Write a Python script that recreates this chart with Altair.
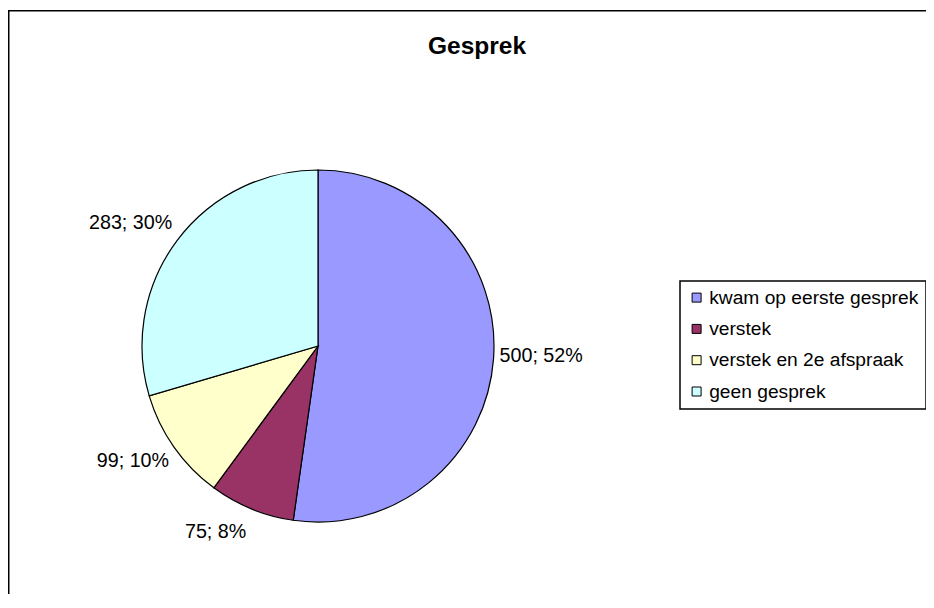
import altair as alt
import pandas as pd

categories = ["kwam op eerste gesprek", "verstek", "verstek en 2e afspraak", "geen gesprek"]
counts = [500, 75, 99, 283]
colors = ["#9999FF", "#993366", "#FFFFCC", "#CCFFFF"]
title_text = "Gesprek"

df = pd.DataFrame({"cat": categories, "n": counts, "i": list(range(len(categories)))})

FONT = "Liberation Sans"
CX, CY = 310, 338

base = (
    alt.Chart(df)
    .transform_joinaggregate(total="sum(n)")
    .transform_calculate(
        label="format(datum.n, 'd') + '; ' + format(round(datum.n / datum.total * 100), 'd') + '%'"
    )
)

pie = base.mark_arc(radius=176, stroke="black", strokeWidth=1.2).encode(
    theta=alt.Theta("n:Q", stack=True),
    order=alt.Order("i:Q"),
    color=alt.Color(
        "cat:N",
        scale=alt.Scale(domain=categories, range=colors),
        sort=categories,
        legend=alt.Legend(
            title=None,
            orient="none",
            legendX=672,
            legendY=273,
            strokeColor="black",
            fillColor="white",
            padding=7,
            symbolType="square",
            symbolSize=81,
            symbolStrokeColor="black",
            symbolStrokeWidth=1,
            symbolOpacity=1,
            labelFont=FONT,
            labelFontSize=19.2,
            labelColor="black",
            labelOffset=3,
            rowPadding=11.3,
            labelLimit=400,
        ),
    ),
    x=alt.value(CX),
    y=alt.value(CY),
)

label_styles = [
    (categories[0], dict(radius=182, align="left", baseline="middle", dy=-3)),
    (categories[1], dict(radius=190, align="right", baseline="top", dy=0)),
    (categories[2], dict(radius=182, align="right", baseline="top", dy=0)),
    (categories[3], dict(radius=182, align="right", baseline="alphabetic", dy=-8)),
]

label_layers = []
for cat, st in label_styles:
    lay = (
        base.transform_calculate(shown=f"datum.cat == '{cat}' ? datum.label : ''")
        .mark_text(font=FONT, fontSize=19.7, color="black", **st)
        .encode(
            theta=alt.Theta("n:Q", stack=True),
            order=alt.Order("i:Q"),
            detail="cat:N",
            text="shown:N",
            x=alt.value(CX),
            y=alt.value(CY),
        )
    )
    label_layers.append(lay)

one = pd.DataFrame({"a": [0]})
top_rule = alt.Chart(one).mark_rule(color="black", strokeWidth=1.5).encode(
    x=alt.value(0), x2=alt.value(2000), y=alt.value(2.75)
)
left_rule = alt.Chart(one).mark_rule(color="black", strokeWidth=1.5).encode(
    x=alt.value(0.75), y=alt.value(2), y2=alt.value(2000)
)

chart = (
    alt.layer(pie, *label_layers, top_rule, left_rule)
    .properties(
        width=918,
        height=586,
        padding=0,
        autosize=alt.AutoSizeParams(type="none"),
        title=alt.TitleParams(
            title_text,
            font=FONT,
            fontSize=24.5,
            fontWeight="bold",
            color="black",
            anchor="middle",
            frame="group",
            baseline="alphabetic",
            offset=0,
            dx=10,
            dy=70,
        ),
    )
    .configure_view(stroke=None)
    .configure_legend(strokeWidth=1.5)
)

chart.save("out.html", embed_options={"renderer": "svg", "actions": False})
